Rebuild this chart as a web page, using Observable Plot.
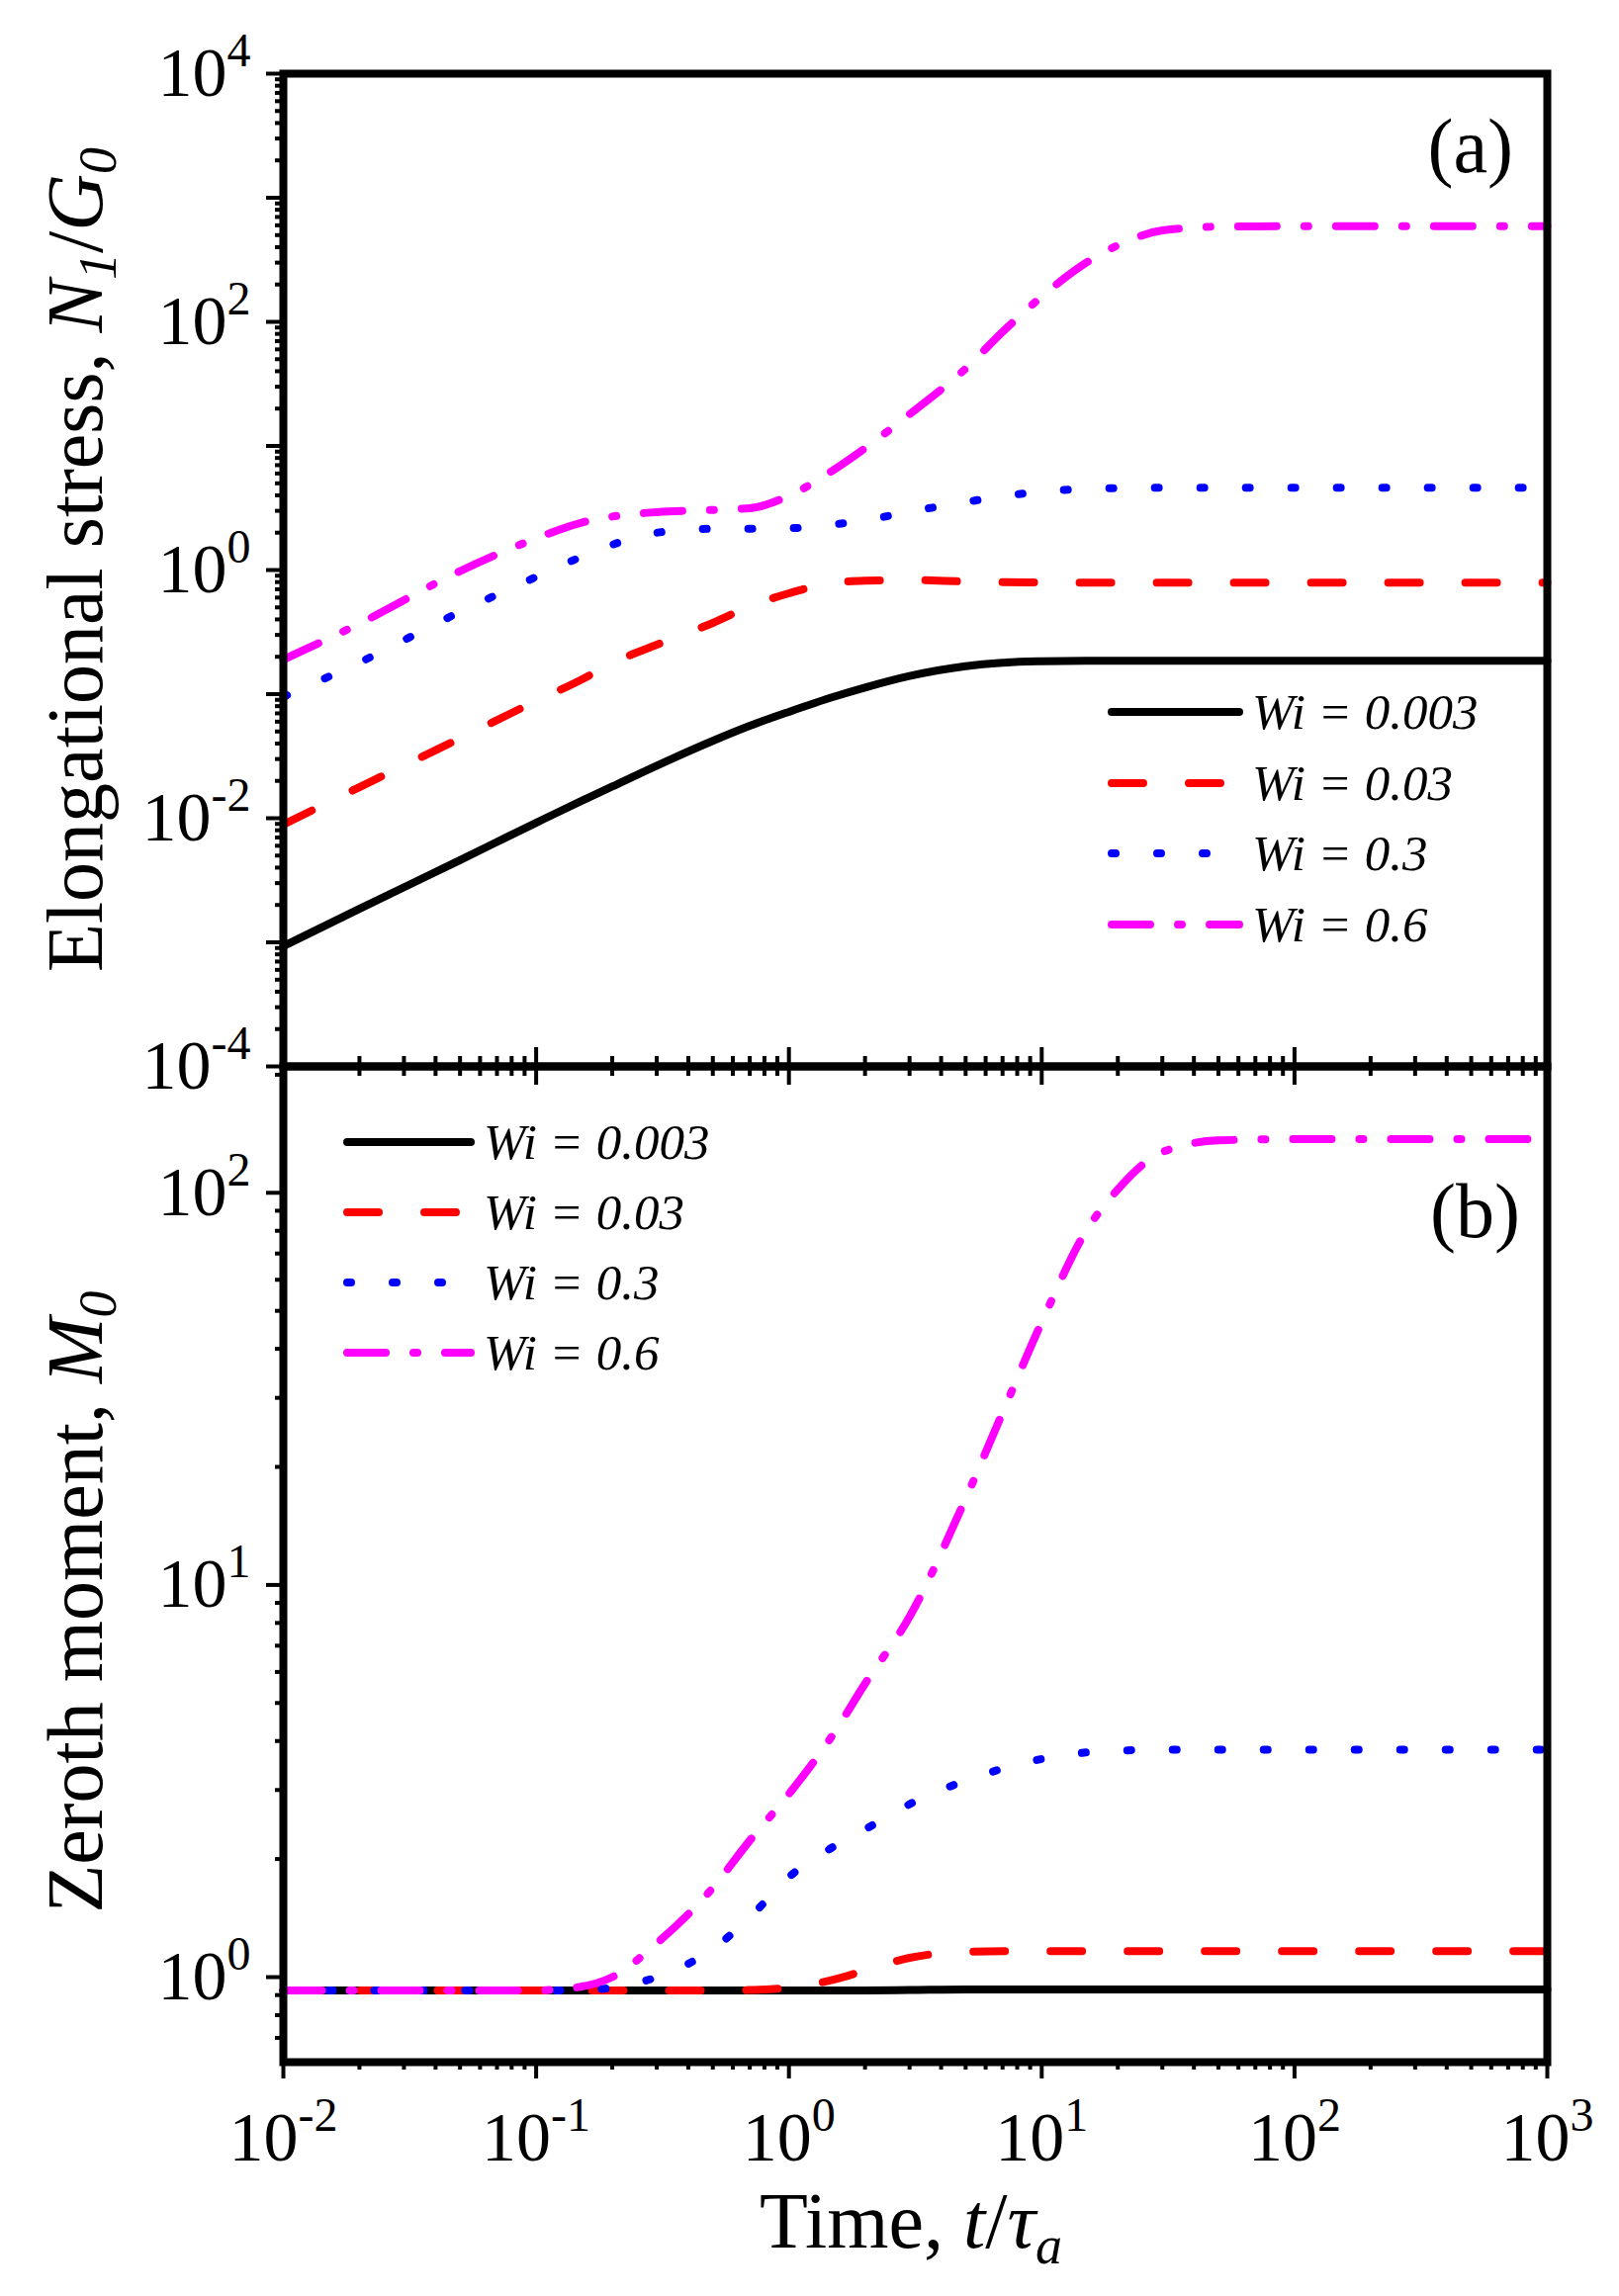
<!DOCTYPE html>
<html>
<head>
<meta charset="utf-8">
<script src="https://cdn.jsdelivr.net/npm/d3@7"></script>
<script src="https://cdn.jsdelivr.net/npm/@observablehq/plot@0.6"></script>
<style>
  html, body { margin: 0; padding: 0; background: #fff; }
  #chart { width: 1637px; }
  #chart svg { display: block; overflow: visible; }
</style>
</head>
<body>
<div id="chart"></div>
<script>
// ---------------- data ----------------
const time = [0.01, 0.02, 0.05, 0.1, 0.15, 0.2, 0.3, 0.5, 0.7, 1, 1.5, 2, 3, 5, 7, 10, 15, 20, 30, 50, 100, 1000];

const seriesNames = ["Wi = 0.003", "Wi = 0.03", "Wi = 0.3", "Wi = 0.6"];
const seriesColors = ["#000000", "#ff0000", "#0000ff", "#ff00ff"];
const seriesDashes = [null, "32,46", "4,42", "39,28,4,28"];

// (a) Elongational stress N1/G0
const stressWi0003 = [0.00093, 0.00186, 0.0046, 0.0092, 0.0137, 0.018, 0.0265, 0.042, 0.0555, 0.072, 0.095, 0.113, 0.14, 0.168, 0.179, 0.184, 0.186, 0.186, 0.186, 0.186, 0.186, 0.186];
const stressWi003  = [0.0089, 0.0178, 0.044, 0.088, 0.13, 0.178, 0.25, 0.375, 0.51, 0.65, 0.79, 0.82, 0.83, 0.81, 0.80, 0.795, 0.79, 0.79, 0.79, 0.79, 0.79, 0.79];
const stressWi03   = [0.095, 0.18, 0.46, 0.88, 1.27, 1.6, 2.0, 2.15, 2.15, 2.17, 2.33, 2.52, 2.95, 3.53, 3.93, 4.3, 4.5, 4.58, 4.6, 4.6, 4.6, 4.6];
const stressWi06   = [0.19, 0.37, 0.98, 1.8, 2.4, 2.7, 2.93, 3.05, 3.15, 3.97, 6.4, 9.6, 18, 42, 83, 160, 300, 414, 545, 585, 590, 590];

// (b) Zeroth moment M0
const momentWi0003 = [0.925, 0.925, 0.925, 0.925, 0.925, 0.925, 0.925, 0.925, 0.925, 0.925, 0.925, 0.925, 0.927, 0.93, 0.93, 0.93, 0.93, 0.93, 0.93, 0.93, 0.93, 0.93];
const momentWi003  = [0.925, 0.925, 0.925, 0.925, 0.925, 0.925, 0.925, 0.925, 0.927, 0.94, 0.985, 1.04, 1.12, 1.16, 1.165, 1.165, 1.165, 1.165, 1.165, 1.165, 1.165, 1.165];
const momentWi03   = [0.925, 0.925, 0.925, 0.925, 0.925, 0.94, 1.0, 1.18, 1.42, 1.8, 2.15, 2.38, 2.76, 3.17, 3.4, 3.6, 3.74, 3.78, 3.8, 3.8, 3.8, 3.8];
const momentWi06   = [0.925, 0.925, 0.925, 0.925, 0.945, 1.0, 1.22, 1.69, 2.23, 2.93, 4.17, 5.6, 8.3, 16.6, 27.5, 46.8, 80, 102, 127, 136, 137, 137];

// tick labels (exponents of 10)
const xTickExponents = [-2, -1, 0, 1, 2, 3];
const yTickExponentsA = [-4, -2, 0, 2, 4];
const yTickExponentsB = [0, 1, 2];

const xDomain = [0.01, 1000];
const yDomainA = [1e-4, 1e4];
const yDomainB = [0.607, 210];

// ---------------- helpers ----------------
const W = 1637, ML = 286, MR = 73;
const FONT = "'Liberation Serif', 'Times New Roman', serif";
const LW = 8;

function decadeTicks(minExp, maxExp) {
  const out = [];
  for (let e = minExp; e <= maxExp; e++) out.push(Math.pow(10, e));
  return out;
}
function minorTicks(minExp, maxExp, lo, hi) {
  const out = [];
  for (let e = minExp; e <= maxExp; e++)
    for (let k = 2; k <= 9; k++) {
      const v = k * Math.pow(10, e);
      if (v >= lo && v <= hi) out.push(v);
    }
  return out;
}
function seriesLines(valueArrays) {
  return valueArrays.map((vals, i) => {
    const rows = time.map((t, j) => ({t, v: vals[j]}));
    const opts = {x: "t", y: "v", stroke: seriesColors[i], strokeWidth: LW,
      strokeLinecap: "round", strokeLinejoin: "round", curve: "monotone-x"};
    if (seriesDashes[i]) opts.strokeDasharray = seriesDashes[i];
    return Plot.line(rows, opts);
  });
}
const expFormat = (exps) => (d) => "10^" + exps[exps.map(e => Math.pow(10, e)).findIndex(v => Math.abs(v - d) / v < 1e-9)];

function supify(svg) {
  d3.select(svg).selectAll('g[aria-label$="tick label"] text').each(function () {
    const t = d3.select(this);
    const m = t.text().match(/^10\^(-?\d+)$/);
    if (!m) return;
    t.text(null);
    t.append("tspan").text("10");
    t.append("tspan").attr("dy", -30).attr("font-size", 48).text(m[1]);
  });
}
function addLegend(svg, x0, x1, xt, ys) {
  const g = d3.select(svg).append("g").attr("class", "legend").attr("text-anchor", "start");
  seriesNames.forEach((s, i) => {
    const l = g.append("line").attr("x1", x0).attr("x2", x1).attr("y1", ys[i]).attr("y2", ys[i])
      .attr("stroke", seriesColors[i]).attr("stroke-width", LW).attr("stroke-linecap", "round");
    if (seriesDashes[i]) l.attr("stroke-dasharray", seriesDashes[i]);
    g.append("text").attr("x", xt).attr("y", ys[i]).attr("dy", "0.34em").attr("text-anchor", "start")
      .attr("font-size", 51).attr("font-style", "italic").attr("fill", "black").text(s);
  });
}

const baseStyle = {background: "transparent", overflow: "visible", fontFamily: FONT, fontSize: "70px", color: "black"};

// ---------------- panel (a) ----------------
const svgA = Plot.plot({
  width: W, height: 1078,
  marginTop: 74, marginBottom: 0, marginLeft: ML, marginRight: MR,
  style: baseStyle,
  x: {type: "log", domain: xDomain},
  y: {type: "log", domain: yDomainA},
  marks: [
    ...seriesLines([stressWi0003, stressWi003, stressWi03, stressWi06]),
    Plot.axisY(minorTicks(-4, 3, 1e-4, 1e4), {anchor: "left", tickSize: 8, strokeWidth: 4, fill: "none", label: null}),
    Plot.axisY(decadeTicks(-4, 4), {anchor: "left", tickSize: 17, strokeWidth: 4, fill: "none", label: null}),
    Plot.axisY(yTickExponentsA.map(e => Math.pow(10, e)), {anchor: "left", tickSize: 17, tickPadding: 16, stroke: "none", label: null, tickFormat: expFormat(yTickExponentsA)}),
    Plot.axisX(minorTicks(-2, 2, 0.01, 1000), {anchor: "bottom", tickSize: 20, dy: -10, strokeWidth: 4, fill: "none", label: null}),
    Plot.axisX(decadeTicks(-2, 3), {anchor: "bottom", tickSize: 38, dy: -19, strokeWidth: 4, fill: "none", label: null}),
    Plot.frame({stroke: "black", strokeWidth: 8})
  ]
});
supify(svgA);
addLegend(svgA, 1124, 1253, 1266, [720, 792, 863, 935]);
{
  const s = d3.select(svgA);
  const t = s.append("text").attr("transform", "translate(103,566) rotate(-90)")
    .attr("text-anchor", "middle").attr("font-size", 80).attr("fill", "black");
  t.append("tspan").text("Elongational stress, ");
  t.append("tspan").attr("font-style", "italic").text("N");
  t.append("tspan").attr("font-style", "italic").attr("font-size", 54).attr("dy", 14).text("1");
  t.append("tspan").attr("dy", -14).text("/");
  t.append("tspan").attr("font-style", "italic").text("G");
  t.append("tspan").attr("font-style", "italic").attr("font-size", 54).attr("dy", 14).text("0");
  s.append("text").attr("x", 1530).attr("y", 174).attr("text-anchor", "end")
    .attr("font-size", 78).attr("fill", "black").text("(a)");
}

// ---------------- panel (b) ----------------
const svgB = Plot.plot({
  width: W, height: 1244,
  marginTop: 0, marginBottom: 237, marginLeft: ML, marginRight: MR,
  style: baseStyle,
  x: {type: "log", domain: xDomain},
  y: {type: "log", domain: yDomainB},
  marks: [
    ...seriesLines([momentWi0003, momentWi003, momentWi03, momentWi06]),
    Plot.axisY(minorTicks(-1, 2, yDomainB[0], yDomainB[1]), {anchor: "left", tickSize: 8, strokeWidth: 4, fill: "none", label: null}),
    Plot.axisY(decadeTicks(0, 2), {anchor: "left", tickSize: 17, strokeWidth: 4, fill: "none", label: null}),
    Plot.axisY(yTickExponentsB.map(e => Math.pow(10, e)), {anchor: "left", tickSize: 17, tickPadding: 16, stroke: "none", label: null, tickFormat: expFormat(yTickExponentsB)}),
    Plot.axisX(minorTicks(-2, 2, 0.01, 1000), {anchor: "bottom", tickSize: 8, strokeWidth: 4, fill: "none", label: null}),
    Plot.axisX(decadeTicks(-2, 3), {anchor: "bottom", tickSize: 17, strokeWidth: 4, fill: "none", label: null}),
    Plot.axisX(xTickExponents.map(e => Math.pow(10, e)), {anchor: "bottom", tickSize: 17, tickPadding: 33, stroke: "none", label: null, tickFormat: expFormat(xTickExponents)}),
    Plot.frame({stroke: "black", strokeWidth: 8})
  ]
});
supify(svgB);
addLegend(svgB, 351, 476, 489, [77, 148, 219, 290]);
{
  const s = d3.select(svgB);
  const t = s.append("text").attr("transform", "translate(103,542) rotate(-90)")
    .attr("text-anchor", "middle").attr("font-size", 80).attr("fill", "black");
  t.append("tspan").text("Zeroth moment, ");
  t.append("tspan").attr("font-style", "italic").text("M");
  t.append("tspan").attr("font-style", "italic").attr("font-size", 54).attr("dy", 14).text("0");
  s.append("text").attr("x", 1537).attr("y", 173).attr("text-anchor", "end")
    .attr("font-size", 78).attr("fill", "black").text("(b)");
  const x = s.append("text").attr("x", 921).attr("y", 1195).attr("text-anchor", "middle")
    .attr("font-size", 80).attr("fill", "black");
  x.append("tspan").text("Time, ");
  x.append("tspan").attr("font-style", "italic").text("t");
  x.append("tspan").text("/");
  x.append("tspan").attr("font-style", "italic").text("τ");
  x.append("tspan").attr("font-style", "italic").attr("font-size", 54).attr("dy", 16).text("a");
}

document.getElementById("chart").append(svgA, svgB);
</script>
</body>
</html>
